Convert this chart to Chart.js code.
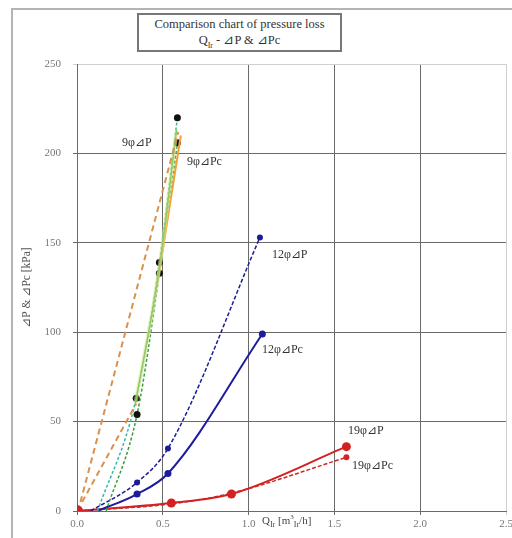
<!DOCTYPE html>
<html>
<head>
<meta charset="utf-8">
<script src="https://cdn.jsdelivr.net/npm/chart.js@4"></script>
<style>
  html, body { margin: 0; padding: 0; width: 512px; height: 538px; overflow: hidden; background: #fff; }
  #cadre { position: absolute; left: 11px; top: 8px; width: 600px; height: 600px; border: 2px solid #b4b4b4; }
  #graphe { position: absolute; left: 0; top: 0; }
  #titre { position: absolute; left: 137px; top: 13px; width: 201px; height: 34px; border: 2px solid #777;
           font: 12.5px "Liberation Serif", serif; color: #333; text-align: center; line-height: 16px; padding-top: 1px; background: #fff; }
  #titreX { position: absolute; left: 262px; top: 513px; font: 11px "Liberation Serif", serif; color: #444; }
  sub { font-size: 8px; }
</style>
</head>
<body>
<div id="cadre"></div>
<canvas id="graphe" width="512" height="538"></canvas>
<div id="titre">Comparison chart of pressure loss<br>Q<sub>Ir</sub> - ⊿P &amp; ⊿Pc</div>
<div id="titreX">Q<sub>Ir</sub> [m<sup style="font-size:7px">3</sup><sub>Ir</sub>/h]</div>
<script>
// ............les données.................
const xTicks = [0.0, 0.5, 1.0, 1.5, 2.0, 2.5];
const yTicks = [0, 50, 100, 150, 200, 250];

// 9φ
const q9P = [0.12, 0.345, 0.48, 0.585];
const dp9P = [0, 63, 139, 220];
const q9Pc = [0.17, 0.35, 0.48, 0.585];
const dp9Pc = [0, 54, 133, 206];
const q9Lin1 = [0.02, 0.59];
const dp9Lin1 = [5, 212];
const q9Lin2 = [0.03, 0.345];
const dp9Lin2 = [5, 60];
const q9Fit = [0.34, 0.48, 0.58];
const dp9Fit = [60, 136, 213];
const q9FitC = [0.47, 0.605];
const dp9FitC = [128, 210];

// 12φ
const q12P = [0.08, 0.35, 0.53, 1.066];
const dp12P = [0, 16, 35, 153];
const q12Pc = [0.12, 0.35, 0.53, 1.08];
const dp12Pc = [0, 9.5, 21, 99];

// 19φ
const q19P = [0, 0.55, 0.90, 1.57];
const dp19P = [0, 4.5, 9.5, 36];
const q19Pc = [0, 0.55, 0.90, 1.57];
const dp19Pc = [0, 4, 10, 30];

// étiquettes des courbes
const labelText = ['9φ⊿P', '9φ⊿Pc', '12φ⊿P', '12φ⊿Pc', '19φ⊿P', '19φ⊿Pc'];
const labelQ = [0.262, 0.641, 1.136, 1.078, 1.579, 1.603];
const labelDp = [206, 195, 143, 90, 44.7, 25];
// ..................fin des données....................

function pts(xs, ys) {
    return xs.map((x, i) => ({x: x, y: ys[i]}));
}

function serie(xs, ys, color, width, dash, radius, ptColor) {
    return {
        data: pts(xs, ys),
        showLine: true,
        borderColor: color,
        borderWidth: width,
        borderDash: dash,
        cubicInterpolationMode: 'monotone',
        pointRadius: radius,
        pointBackgroundColor: ptColor || color,
        pointBorderColor: ptColor || color,
        pointBorderWidth: 0
    };
}

// ........étiquettes dessinées sur le graph........
const etiquettes = {
    id: 'etiquettes',
    afterDatasetsDraw(chart) {
        const c = chart.ctx;
        const sx = chart.scales.x, sy = chart.scales.y;
        c.save();
        c.font = '12px "Liberation Serif", serif';
        c.fillStyle = '#333';
        c.textAlign = 'left';
        c.textBaseline = 'middle';
        labelText.forEach((t, i) => {
            c.fillText(t, sx.getPixelForValue(labelQ[i]), sy.getPixelForValue(labelDp[i]));
        });
        c.restore();
    }
};

const ctx = document.getElementById('graphe').getContext('2d');
const chart = new Chart(ctx, {
    type: 'scatter',
    data: {
        datasets: [
            serie(q9Lin1, dp9Lin1, '#d9914e', 2, [6, 4], 0),
            serie(q9Lin2, dp9Lin2, '#d9914e', 2, [6, 4], 0),
            serie(q9Fit, dp9Fit, 'rgba(215,235,150,0.55)', 4, [], 0),
            serie(q9Fit, dp9Fit, '#4f9a2c', 1.5, [], 0),
            serie(q9FitC, dp9FitC, '#f0a236', 2, [], 0),
            serie(q9P, dp9P, '#36b8a6', 1.5, [3, 2], [0, 3.5, 3.5, 3.5], '#111'),
            serie(q9Pc, dp9Pc, '#3c9c3c', 1.5, [3, 2], [0, 3.5, 3.5, 3.5], '#111'),
            serie(q12P, dp12P, '#1c1c96', 1.5, [4, 2], [0, 3, 3, 3]),
            serie(q12Pc, dp12Pc, '#1c1c9c', 2, [], [0, 3.5, 3.5, 3.5]),
            serie(q19Pc, dp19Pc, '#d42424', 1.5, [4, 2], [0, 0, 0, 3]),
            serie(q19P, dp19P, '#d42020', 2, [], [6, 4.5, 4.5, 4.5])
        ]
    },
    options: {
        responsive: false,
        animation: false,
        layout: { padding: { left: 0, right: 6, top: 64, bottom: 7 } },
        plugins: {
            legend: { display: false },
            tooltip: { enabled: false }
        },
        scales: {
            x: {
                type: 'linear',
                min: 0, max: 2.5,
                afterBuildTicks: s => { s.ticks = xTicks.map(v => ({value: v})); },
                afterFit: s => { s.height = 20; s.paddingLeft = 0; s.paddingRight = 0; },
                ticks: {
                    color: '#777',
                    font: { family: 'Liberation Serif', size: 11 },
                    padding: 3,
                    maxRotation: 0,
                    callback: v => v.toFixed(1)
                },
                grid: {
                    color: c => (c.tick && c.tick.value === 2.5) ? '#cfcfcf' : '#6a6a6a',
                    tickLength: 4,
                    lineWidth: 1
                },
                border: { color: '#6a6a6a', width: 1 }
            },
            y: {
                min: 0, max: 250,
                afterBuildTicks: s => { s.ticks = yTicks.map(v => ({value: v})); },
                afterFit: s => { s.width = 77; },
                ticks: {
                    color: '#777',
                    font: { family: 'Liberation Serif', size: 11 },
                    padding: 12
                },
                grid: {
                    color: c => (c.tick && c.tick.value === 250) ? '#cfcfcf' : '#6a6a6a',
                    tickLength: 4,
                    lineWidth: 1
                },
                border: { color: '#6a6a6a', width: 1 },
                title: {
                    display: true,
                    text: '⊿P & ⊿Pc [kPa]',
                    color: '#555',
                    font: { family: 'Liberation Serif', size: 11.5 },
                    padding: { top: 20, bottom: 0 }
                }
            }
        }
    },
    plugins: [etiquettes]
});
</script>
</body>
</html>
